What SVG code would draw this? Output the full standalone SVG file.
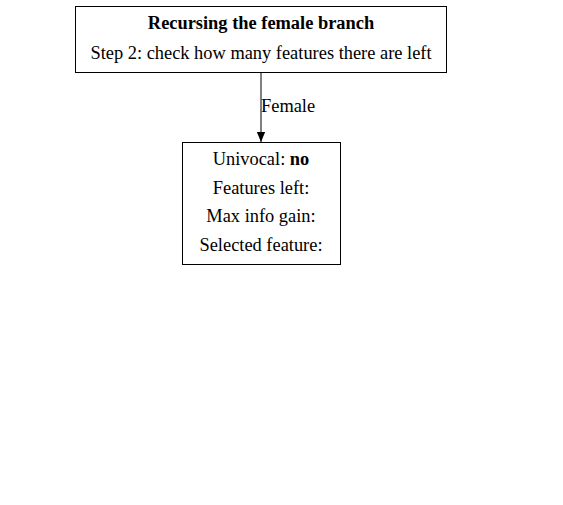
<svg xmlns="http://www.w3.org/2000/svg" width="563" height="505" viewBox="0 0 563 505">
<style>
text{font-family:"Liberation Serif","Times New Roman",serif;font-size:18.4px;fill:#000;text-anchor:middle}
.b{font-weight:bold}
.box{fill:#fff;stroke:#000;stroke-width:1}
</style>
<defs><marker id="ah" markerWidth="10" markerHeight="13" refX="12" refY="5" orient="auto" markerUnits="userSpaceOnUse" viewBox="0 0 12 10"><path d="M0,0 L12,5 L0,10 Z" fill="#000"/></marker></defs>
<rect width="563" height="505" fill="#fff"/>
<g id="connectors">
<line x1="261" y1="72" x2="261" y2="142" stroke="#000" marker-end="url(#ah)"/>
<text x="261" y="112" style="text-anchor:start">Female</text>
</g>
<g id="node1">
<rect class="box" x="75.5" y="6.5" width="371" height="66"/>
<text class="b" x="261" y="29">Recursing the female branch</text>
<text x="261" y="59">Step 2: check how many features there are left</text>
</g>
<g id="node2">
<rect class="box" x="182.5" y="142.5" width="158" height="122"/>
<text x="261" y="165">Univocal: <tspan class="b">no</tspan></text>
<text x="261" y="194">Features left:</text>
<text x="261" y="222">Max info gain:</text>
<text x="261" y="251">Selected feature:</text>
</g>
</svg>
